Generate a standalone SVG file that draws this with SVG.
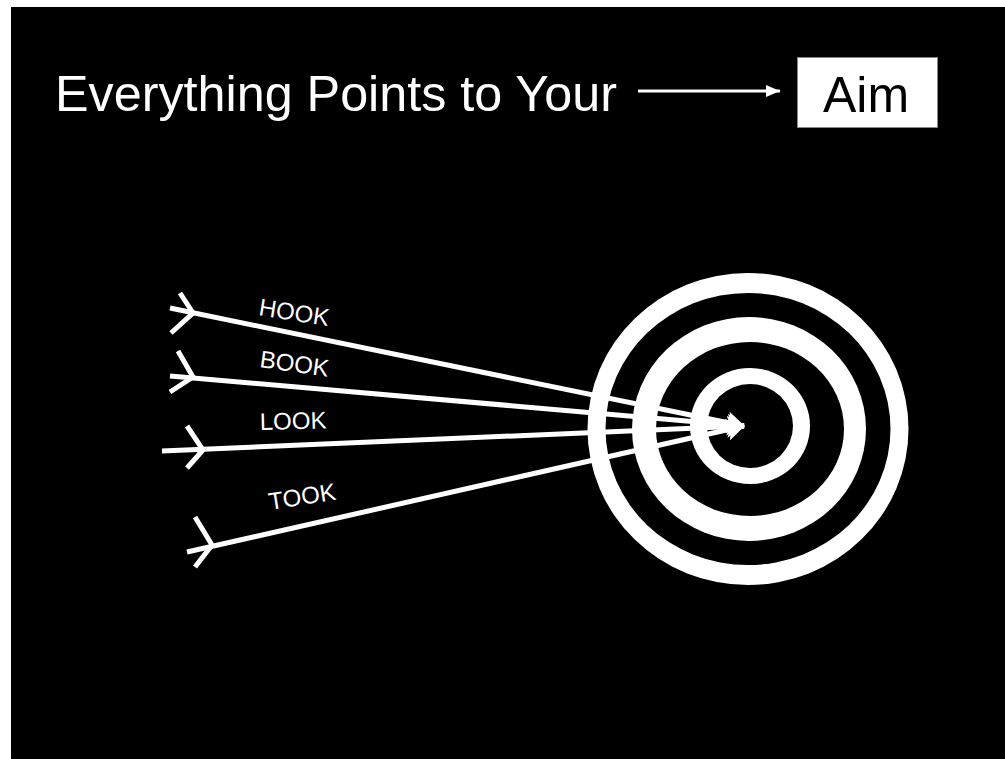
<svg xmlns="http://www.w3.org/2000/svg" width="1005" height="759" viewBox="0 0 1005 759">
  <defs>
    <style>
      .shaft { stroke: #fff; stroke-width: 5; fill: none; }
      .fletch { stroke: #fff; stroke-width: 5; fill: none; stroke-linejoin: miter; }
      .lbl { font-family: "Liberation Sans", Arial, sans-serif; font-size: 24px; fill: #fff; }
      .title { font-family: "Liberation Sans", Arial, sans-serif; font-size: 50px; fill: #fff; }
    </style>
    <marker id="head" markerUnits="userSpaceOnUse" markerWidth="20" markerHeight="24" refX="17" refY="11" orient="auto">
      <path d="M0,0 L18,11 L0,22 L4,11 Z" fill="#fff"/>
    </marker>
    <marker id="headSmall" markerUnits="userSpaceOnUse" markerWidth="16" markerHeight="14" refX="14" refY="6" orient="auto">
      <path d="M0,0 L14,6 L0,12 Z" fill="#fff"/>
    </marker>
  </defs>
  <rect x="0" y="0" width="1005" height="759" fill="#fff"/>
  <rect x="11" y="7" width="994" height="752" fill="#000"/>

  <g id="title">
    <text class="title" x="55" y="111" textLength="562" lengthAdjust="spacingAndGlyphs">Everything Points to Your</text>
  </g>
  <g id="aim">
    <rect x="797.5" y="57.5" width="140" height="70" fill="#fff" stroke="#888" stroke-width="1"/>
    <text x="823" y="112" font-family="Liberation Sans, Arial, sans-serif" font-size="50" fill="#000">Aim</text>
  </g>

  <g id="target">
    <ellipse cx="748" cy="429" rx="160.5" ry="156" fill="#fff"/>
    <ellipse cx="748" cy="429" rx="142.5" ry="136" fill="#000"/>
    <ellipse cx="749" cy="429" rx="117" ry="112" fill="#fff"/>
    <ellipse cx="750" cy="429" rx="94" ry="87" fill="#000"/>
    <ellipse cx="750" cy="426" rx="60" ry="58" fill="#fff"/>
    <ellipse cx="750" cy="426" rx="43" ry="42" fill="#000"/>
  </g>

  <g id="connectors">
    <line x1="638" y1="91" x2="780" y2="91" stroke="#fff" stroke-width="3" marker-end="url(#headSmall)"/>
    <line class="shaft" x1="170" y1="308" x2="744" y2="426" marker-end="url(#head)"/>
    <line class="shaft" x1="170" y1="376" x2="744" y2="426" marker-end="url(#head)"/>
    <line class="shaft" x1="162" y1="451" x2="744" y2="426" marker-end="url(#head)"/>
    <line class="shaft" x1="187" y1="552" x2="744" y2="426" marker-end="url(#head)"/>
  </g>

  <g id="arrow-hook">
    <polyline class="fletch" points="180,293 193,313 171,333"/>
    <text class="lbl" transform="translate(258,315) rotate(9)">HOOK</text>
  </g>
  <g id="arrow-book">
    <polyline class="fletch" points="178,351 193,377 170,392"/>
    <text class="lbl" transform="translate(259,367) rotate(8)">BOOK</text>
  </g>
  <g id="arrow-look">
    <polyline class="fletch" points="187,426 203,450 187,468"/>
    <text class="lbl" transform="translate(260,430) rotate(-1.5)">LOOK</text>
  </g>
  <g id="arrow-took">
    <polyline class="fletch" points="195,517 212,545 195,567"/>
    <text class="lbl" transform="translate(270,510) rotate(-9)">TOOK</text>
  </g>
</svg>
